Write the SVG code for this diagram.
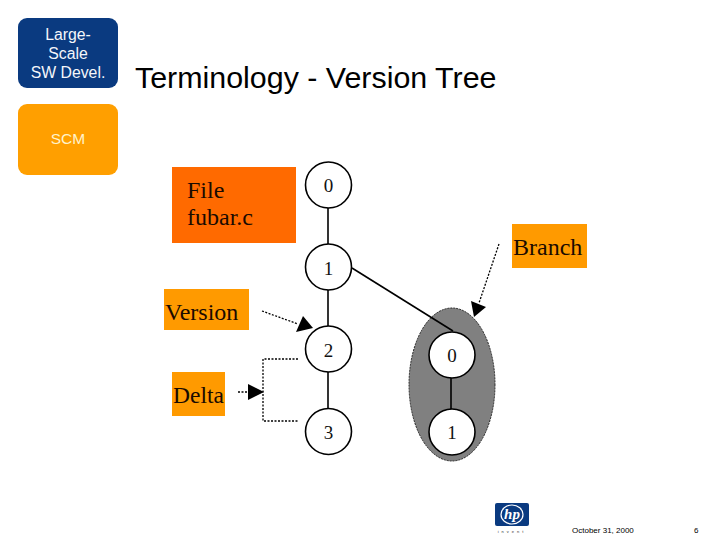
<svg xmlns="http://www.w3.org/2000/svg" width="720" height="540" viewBox="0 0 720 540">
<style>
.s{font-family:"Liberation Sans",Arial,sans-serif}
.t{font-family:"Liberation Serif","Times New Roman",serif;fill:#1a0a00}
.n{fill:#fff;stroke:#000;stroke-width:1.6}
.e{stroke:#000;stroke-width:1.6;fill:none}
.d{stroke:#000;stroke-width:1.3;fill:none;stroke-dasharray:2 1.5}
.num{font-family:"Liberation Serif","Times New Roman",serif;font-size:19px;text-anchor:middle;fill:#111}
</style>
<rect width="720" height="540" fill="#fff"/>
<g id="header-course">
<rect x="18" y="18" width="100" height="70" rx="9" fill="#0a3a80"/>
<text class="s" font-size="15.800" fill="#f4f6fa" text-anchor="middle"><tspan x="68" y="40">Large-</tspan><tspan x="68" y="59">Scale</tspan><tspan x="68" y="78">SW Devel.</tspan></text>
</g>
<g id="header-topic">
<rect x="18" y="104" width="100" height="71" rx="9" fill="#ff9f00"/>
<text class="s" x="68" y="144" font-size="15.500" fill="#fff3cc" text-anchor="middle">SCM</text>
</g>
<text id="title" class="s" x="135" y="88" font-size="30.400" fill="#000">Terminology - Version Tree</text>
<g id="connectors">
<line class="e" x1="328" y1="208" x2="328" y2="244"/>
<line class="e" x1="328" y1="290" x2="328" y2="326"/>
<line class="e" x1="328" y1="372" x2="328" y2="408"/>
<path class="d" d="M262 311L298 324"/>
<path d="M313 328L296 332L303 316Z" fill="#000"/>
<path class="d" d="M238 392H248"/>
<path d="M264 392L248 384V400Z" fill="#000"/>
<path class="d" d="M298 359H263V421H298"/>
<path class="d" d="M499 244L479 303"/>
</g>
<g id="file-label">
<rect x="172" y="167" width="124" height="76" fill="#ff6a00"/>
<text class="t" font-size="24"><tspan x="187" y="198">File</tspan><tspan x="187" y="225">fubar.c</tspan></text>
</g>
<g id="version-label">
<rect x="164" y="289" width="85" height="41" fill="#ff9a00"/>
<text class="t" x="165" y="320" font-size="24">Version</text>
</g>
<g id="delta-label">
<rect x="172" y="372" width="53" height="44" fill="#ff9a00"/>
<text class="t" x="173" y="403" font-size="23.500">Delta</text>
</g>
<g id="branch-label">
<rect x="512" y="224" width="75" height="44" fill="#ff9a00"/>
<text class="t" x="513" y="255" font-size="24">Branch</text>
</g>
<g id="branch-group">
<ellipse cx="452" cy="384.500" rx="43" ry="76.500" fill="#808080" stroke="#222" stroke-width="1" stroke-dasharray="2 1"/>
<line class="e" x1="451" y1="378" x2="451" y2="409"/>
<path class="e" d="M352 268L453 331"/>
<path d="M474 317L471 301L486 307Z" fill="#000"/>
</g>
<g id="v0"><circle class="n" cx="328.500" cy="185" r="23"/><text class="num" x="328.500" y="192">0</text></g>
<g id="v1"><circle class="n" cx="328.500" cy="267" r="23"/><text class="num" x="328.500" y="275">1</text></g>
<g id="v2"><circle class="n" cx="328.500" cy="349" r="23"/><text class="num" x="328.500" y="357">2</text></g>
<g id="v3"><circle class="n" cx="328.500" cy="431.500" r="23"/><text class="num" x="328.500" y="439">3</text></g>
<g id="b0"><circle class="n" cx="452" cy="355" r="23"/><text class="num" x="452" y="362">0</text></g>
<g id="b1"><circle class="n" cx="452" cy="432" r="23"/><text class="num" x="452" y="439">1</text></g>
<g id="footer">
<rect x="495" y="503" width="34" height="23" rx="2" fill="#0a3a80"/>
<ellipse cx="512" cy="514.500" rx="11" ry="9.500" fill="none" stroke="#fff" stroke-width="1.200"/>
<text x="512" y="519" font-family="Liberation Serif,serif" font-style="italic" font-weight="bold" font-size="15" fill="#fff" text-anchor="middle">hp</text>
<text class="s" x="512" y="533" font-size="4" letter-spacing="3" fill="#333" text-anchor="middle">invent</text>
<text class="s" x="572" y="533" font-size="8" fill="#000">October 31, 2000</text>
<text class="s" x="694" y="533" font-size="8" fill="#000">6</text>
</g>
</svg>
